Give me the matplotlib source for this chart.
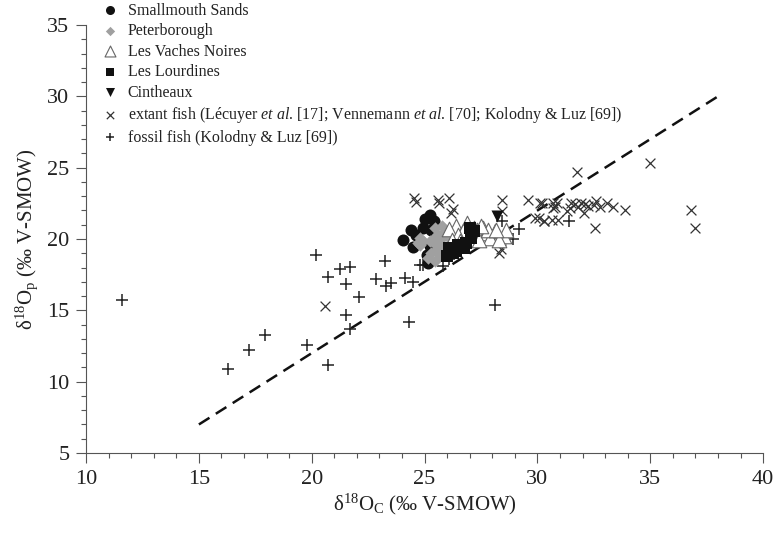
import matplotlib
matplotlib.use("Agg")
import matplotlib.pyplot as plt
from matplotlib.ticker import MultipleLocator
import numpy as np

plt.rcParams['font.family'] = ['Liberation Serif', 'DejaVu Serif']
plt.rcParams['mathtext.fontset'] = 'custom'
plt.rcParams['mathtext.rm'] = 'Liberation Serif'
plt.rcParams['mathtext.it'] = 'Liberation Serif:italic'

# data (d18O carbonate, d18O phosphate)
smallmouth_x = [24.05, 24.4, 24.6, 24.5, 24.95, 25.0, 25.25, 25.4, 25.3, 25.25, 25.1, 25.15]
smallmouth_y = [19.95, 20.6, 20.3, 19.45, 20.8, 21.4, 21.7, 21.25, 20.6, 19.5, 18.9, 18.3]

peterborough_x = [25.45, 25.75, 25.9, 25.6, 25.4, 25.25, 24.95, 24.8, 25.4, 25.7,
                  26.0, 25.8, 25.55, 25.3, 25.15, 25.7, 25.45, 24.8, 24.7]
peterborough_y = [20.8, 20.9, 20.55, 20.3, 20.1, 19.85, 19.85, 19.6, 19.7, 19.95,
                  20.2, 19.5, 19.3, 19.0, 18.7, 18.9, 18.45, 20.1, 19.7]

vaches_x = [26.4, 26.9, 26.7, 27.3, 27.6, 27.7, 28.1, 27.9, 28.5, 28.6, 28.3,
            26.4, 27.0, 27.4, 27.8, 27.2, 26.1, 26.5, 26.55, 26.2, 27.5, 28.15]
vaches_y = [20.9, 21.1, 20.55, 20.65, 20.8, 20.45, 20.55, 20.1, 20.2, 20.65, 19.95,
            19.95, 20.3, 19.95, 20.65, 20.8, 20.7, 20.3, 19.85, 19.95, 20.9, 20.65]

lourdines_x = [27.0, 27.2, 27.05, 26.85, 26.75, 26.5, 26.1, 26.25, 26.0, 26.4]
lourdines_y = [20.8, 20.55, 20.1, 19.75, 19.4, 19.55, 19.4, 19.05, 18.8, 19.15]

cintheaux_x = [28.2]
cintheaux_y = [21.6]

extant_x = [20.6, 24.55, 24.6, 25.6, 25.65, 26.1, 26.25, 26.15,
            28.45, 28.45, 29.6, 30.1, 30.06, 30.3, 28.3, 28.4,
            31.75, 35.0, 30.2, 30.7, 30.78, 30.85, 30.7,
            31.5, 31.65, 31.8, 31.95, 32.1, 32.25, 32.5, 32.6, 32.75, 33.1, 33.35, 33.9,
            31.45, 31.3, 32.05, 29.9, 30.3, 30.65, 30.9, 32.55, 36.8, 37.0]
extant_y = [15.3, 22.9, 22.6, 22.75, 22.5, 22.9, 22.1, 21.8,
            22.7, 21.95, 22.75, 22.5, 21.5, 21.25, 19.0, 19.3,
            24.7, 25.3, 22.5, 22.49, 22.25, 22.49, 22.14,
            22.5, 22.45, 22.25, 22.5, 22.45, 22.3, 22.4, 22.65, 22.25, 22.5, 22.25, 22.05,
            22.2, 21.95, 21.8, 21.5, 21.25, 21.3, 21.3, 20.8, 22.05, 20.8]

fossil_x = [11.6, 16.3, 17.2, 17.95, 19.8, 20.2, 20.7, 20.7, 21.25, 21.7, 21.5, 22.1,
            21.5, 21.7, 23.25, 22.85, 23.3, 23.5, 24.15, 24.5, 24.3, 24.8, 24.95,
            25.8, 26.1, 28.1, 28.45, 28.9, 29.2, 31.4]
fossil_y = [15.7, 10.9, 12.25, 13.3, 12.6, 18.85, 17.35, 11.2, 17.9, 18.05, 16.85, 15.9,
            14.7, 13.7, 18.45, 17.2, 16.7, 16.9, 17.3, 17.0, 14.2, 18.2, 18.2,
            18.1, 18.6, 15.4, 21.25, 20.0, 20.7, 21.25]

line_x = [15, 38]
line_y = [7, 30]

labels = ["Smallmouth Sands", "Peterborough", "Les Vaches Noires", "Les Lourdines",
          "Cintheaux",
          r"extant fish (Lécuyer $\mathit{et\ al}$. [17]; Vennemann $\mathit{et\ al}$. [70]; Kolodny & Luz [69])",
          "fossil fish (Kolodny & Luz [69])"]

fig = plt.figure(figsize=(7.73, 5.34), dpi=100)
ax = fig.add_axes([0.1113, 0.1517, 0.876, 0.8015])

ax.plot(line_x, line_y, color='#111111', linestyle=(0, (5, 3)), linewidth=1.8, zorder=1)

h_fossil = ax.scatter(fossil_x, fossil_y, marker='+', s=70, c='#222222', linewidths=1.1, zorder=2)
h_extant = ax.scatter(extant_x, extant_y, marker='x', s=50, c='#333333', linewidths=0.9, zorder=2)
h_small = ax.scatter(smallmouth_x, smallmouth_y, marker='o', s=75, c='#111111', linewidths=0, zorder=3)
h_peter = ax.scatter(peterborough_x, peterborough_y, marker='D', s=40, c='#a0a0a0', linewidths=0, zorder=4)
h_vach = ax.scatter(vaches_x, vaches_y, marker='^', s=110, facecolors='white',
                    edgecolors='#666666', linewidths=0.8, zorder=5)
h_lour = ax.scatter(lourdines_x, lourdines_y, marker='s', s=70, c='#111111', linewidths=0, zorder=6)
h_cint = ax.scatter(cintheaux_x, cintheaux_y, marker='v', s=75, c='#111111', linewidths=0, zorder=6)

ax.set_xlim(10, 40)
ax.set_ylim(5, 35)
ax.xaxis.set_major_locator(MultipleLocator(5))
ax.xaxis.set_minor_locator(MultipleLocator(1))
ax.yaxis.set_major_locator(MultipleLocator(5))
ax.yaxis.set_minor_locator(MultipleLocator(1))
ax.tick_params(which='major', direction='out', length=7, width=0.8, color='#555555',
               labelsize=16, labelcolor='#222222')
ax.tick_params(which='minor', direction='out', length=3.5, width=0.8, color='#555555')
ax.tick_params(axis='y', pad=5)
ax.tick_params(axis='x', pad=5)
for s in ['top', 'right']:
    ax.spines[s].set_visible(False)
for s in ['left', 'bottom']:
    ax.spines[s].set_color('#555555')
    ax.spines[s].set_linewidth(0.8)

ax.set_xlabel(r"δ$^{18}$O$_{\mathrm{C}}$ (‰ V-SMOW)", fontsize=15, color='#222222', labelpad=2)
ax.set_ylabel(r"δ$^{18}$O$_{\mathrm{p}}$ (‰ V-SMOW)", fontsize=15, color='#222222', labelpad=5)

fig.legend([h_small, h_peter, h_vach, h_lour, h_cint, h_extant, h_fossil], labels,
           loc='upper left', bbox_to_anchor=(0.132, 0.995), frameon=False,
           fontsize=11.5, handlelength=1.0, handletextpad=0.6, labelspacing=0.28,
           borderpad=0, borderaxespad=0, labelcolor='#222222', markerscale=0.75)

fig.savefig("out.png", dpi=100)
